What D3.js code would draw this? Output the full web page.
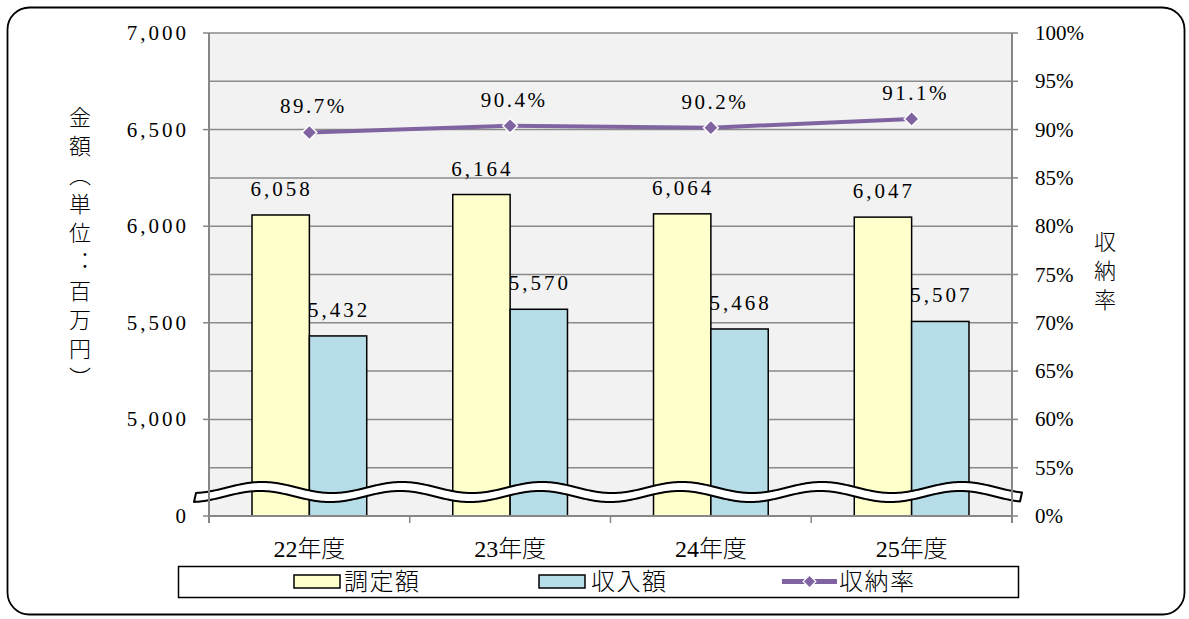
<!DOCTYPE html>
<html><head><meta charset="utf-8">
<script src="https://cdn.jsdelivr.net/npm/d3@7"></script>
<style>body{margin:0;background:#fff}svg{display:block}</style>
</head><body>
<svg id="c" width="1189" height="619"></svg>
<script>
const categories = ["22年度","23年度","24年度","25年度"];
const seriesNames = ["調定額","収入額","収納率"];
const assessed = [6058, 6164, 6064, 6047];
const received = [5432, 5570, 5468, 5507];
const rate = [0.897, 0.904, 0.902, 0.911];
const leftTickValues = [4500, 5000, 5500, 6000, 6500, 7000];
const leftTickLabels = ["0", "5,000", "5,500", "6,000", "6,500", "7,000"];
const gridValues = [4750, 5000, 5250, 5500, 5750, 6000, 6250, 6500, 6750, 7000];
const rightTickValues = [0.5, 0.55, 0.6, 0.65, 0.7, 0.75, 0.8, 0.85, 0.9, 0.95, 1.0];
const rightTickLabels = ["0%","55%","60%","65%","70%","75%","80%","85%","90%","95%","100%"];

const svg = d3.select("#c");
const L = 209, R = 1012, T = 33, B = 516;
const numFont = "'Liberation Serif','DejaVu Serif',serif";
const cjkFont = "'Noto Sans CJK JP','Noto Sans',sans-serif";
const gridCol = "#8a8a8a";

// outer frame
svg.append("rect").attr("x",7.5).attr("y",7.5).attr("width",1177).attr("height",607)
  .attr("rx",22).attr("fill","#fff").attr("stroke","#000").attr("stroke-width",1.8);

const x = d3.scaleBand().domain(categories).range([L, R]).padding(0);
const xs = d3.scaleBand().domain([0,1]).range([0, x.bandwidth()]).paddingInner(0).paddingOuter(0.75);
const y = d3.scaleLinear().domain([4500, 7000]).range([B, T]);
const y2 = d3.scaleLinear().domain([0.5, 1.0]).range([B, T]);

// plot background
svg.append("rect").attr("x",L).attr("y",T).attr("width",R-L).attr("height",B-T).attr("fill","#f2f2f2");

// gridlines
svg.append("g").selectAll("line").data(gridValues).join("line")
  .attr("x1",L).attr("x2",R).attr("y1",d=>y(d)).attr("y2",d=>y(d))
  .attr("stroke",gridCol).attr("stroke-width",1.5);

// bars
const seriesData = [assessed, received];
const colors = ["#ffffcc", "#b7dde8"];
seriesData.forEach((vals, s) => {
  svg.append("g").selectAll("rect").data(vals).join("rect")
    .attr("x",(d,i)=>x(categories[i]) + xs(s))
    .attr("y",d=>y(d))
    .attr("width",xs.bandwidth())
    .attr("height",d=>B - y(d))
    .attr("fill",colors[s]).attr("stroke","#000").attr("stroke-width",1.5);
  svg.append("g").selectAll("text").data(vals).join("text")
    .attr("x",(d,i)=>x(categories[i]) + xs(s) + xs.bandwidth()/2 + 1)
    .attr("y",d=>y(d) - 19)
    .attr("text-anchor","middle")
    .attr("font-family",numFont).attr("font-size",21).attr("letter-spacing",3)
    .attr("fill","#000")
    .text(d=>d3.format(",")(d));
});

// rate line
const cx = i => x(categories[i]) + x.bandwidth()/2;
const line = d3.line().x((d,i)=>cx(i)).y(d=>y2(d));
svg.append("path").datum(rate).attr("d",line).attr("fill","none")
  .attr("stroke","#8064a2").attr("stroke-width",4);
svg.append("g").selectAll("path").data(rate).join("path")
  .attr("transform",(d,i)=>`translate(${cx(i)},${y2(d)}) rotate(45)`)
  .attr("d",d3.symbol().type(d3.symbolSquare).size(110))
  .attr("fill","#8064a2").attr("stroke","#fff").attr("stroke-width",1.5);
svg.append("g").selectAll("text").data(rate).join("text")
  .attr("x",(d,i)=>cx(i) + 4)
  .attr("y",d=>y2(d) - 19)
  .attr("text-anchor","middle")
  .attr("font-family",numFont).attr("font-size",21).attr("letter-spacing",2.5)
  .text(d=>d3.format(".1%")(d));

// axis break wave
(function(){
  const yc = 492, A = 5.5, half = 4.5, P = 140, x0 = 196, x1 = 1023;
  const top = [], bot = [];
  for (let xx = x0; xx <= x1; xx += 2) {
    const w = -A*Math.cos(2*Math.PI*(xx-262)/P);
    top.push([xx, yc - half + w]);
    bot.push([xx - 2, yc + half + w]);
  }
  const pts = top.concat(bot.reverse());
  svg.append("path").attr("d","M"+pts.map(p=>p.join(",")).join("L")+"Z")
    .attr("fill","#fff").attr("stroke","#000").attr("stroke-width",2).attr("stroke-linejoin","round");
})();

// axes
const axCol = "#868686";
svg.append("line").attr("x1",L).attr("x2",L).attr("y1",T).attr("y2",B+7).attr("stroke",axCol).attr("stroke-width",2);
svg.append("line").attr("x1",R).attr("x2",R).attr("y1",T).attr("y2",B+7).attr("stroke",axCol).attr("stroke-width",2);
svg.append("line").attr("x1",L).attr("x2",R).attr("y1",B).attr("y2",B).attr("stroke",axCol).attr("stroke-width",2);
// left ticks
svg.append("g").selectAll("line").data(leftTickValues).join("line")
  .attr("x1",L-6).attr("x2",L).attr("y1",d=>y(d)).attr("y2",d=>y(d)).attr("stroke",axCol).attr("stroke-width",1.5);
svg.append("g").selectAll("text").data(leftTickValues).join("text")
  .attr("x",L-20).attr("y",d=>y(d)+7)
  .attr("text-anchor","end")
  .attr("font-family",numFont).attr("font-size",21).attr("letter-spacing",3)
  .text((d,i)=>leftTickLabels[i]);
// right ticks
svg.append("g").selectAll("line").data(rightTickValues).join("line")
  .attr("x1",R).attr("x2",R+6).attr("y1",d=>y2(d)).attr("y2",d=>y2(d)).attr("stroke",axCol).attr("stroke-width",1.5);
svg.append("g").selectAll("text").data(rightTickValues).join("text")
  .attr("x",R+23).attr("y",d=>y2(d)+7)
  .attr("text-anchor","start")
  .attr("font-family",numFont).attr("font-size",21)
  .text((d,i)=>rightTickLabels[i]);
// bottom ticks at category boundaries
const bounds = categories.map(c=>x(c)).concat([R]);
svg.append("g").selectAll("line").data(bounds).join("line")
  .attr("x1",d=>d).attr("x2",d=>d).attr("y1",B).attr("y2",B+7).attr("stroke",axCol).attr("stroke-width",1.5);
// category labels
svg.append("g").selectAll("text").data(categories).join("text")
  .attr("x",d=>x(d)+x.bandwidth()/2).attr("y",557)
  .attr("text-anchor","middle")
  .attr("font-size",24)
  .each(function(d){
    const t = d3.select(this);
    const m = d.match(/^(\d+)(.*)$/);
    t.append("tspan").attr("font-family",numFont).text(m[1]);
    t.append("tspan").attr("font-family",cjkFont).attr("font-weight",300).text(m[2]);
  });

// axis titles (vertical)
const yTitle = svg.append("text").attr("x",80).attr("y",251)
  .attr("writing-mode","vertical-rl").attr("text-anchor","middle")
  .attr("font-family",cjkFont).attr("font-weight",300).attr("font-size",22).attr("letter-spacing",7);
yTitle.append("tspan").text("金額（単位");
yTitle.append("tspan").attr("style","font-feature-settings:'vert' 0,'vrt2' 0").text("：");
yTitle.append("tspan").text("百万円）");
svg.append("text").attr("x",1105).attr("y",274)
  .attr("writing-mode","vertical-rl").attr("text-anchor","middle")
  .attr("font-family",cjkFont).attr("font-weight",300).attr("font-size",22).attr("letter-spacing",7)
  .text("収納率");

// legend
const lg = svg.append("g");
lg.append("rect").attr("x",178.5).attr("y",566.5).attr("width",840).attr("height",31)
  .attr("fill","#fff").attr("stroke","#000").attr("stroke-width",1.5);
const legX = [294, 539, 782];
[0,1].forEach(s=>{
  lg.append("rect").attr("x",legX[s]).attr("y",575).attr("width",46).attr("height",13)
    .attr("fill",colors[s]).attr("stroke","#000").attr("stroke-width",1.5);
});
lg.append("line").attr("x1",legX[2]).attr("x2",legX[2]+55).attr("y1",581.5).attr("y2",581.5)
  .attr("stroke","#8064a2").attr("stroke-width",5);
lg.append("path").attr("transform",`translate(${legX[2]+27.5},581.5) rotate(45)`)
  .attr("d",d3.symbol().type(d3.symbolSquare).size(80))
  .attr("fill","#8064a2").attr("stroke","#fff").attr("stroke-width",1.2);
const legTextX = [344, 591, 839];
seriesNames.forEach((n,i)=>{
  lg.append("text").attr("x",legTextX[i]).attr("y",590)
    .attr("font-family",cjkFont).attr("font-weight",300).attr("font-size",24).attr("letter-spacing",1.5)
    .text(n);
});
</script>
</body></html>
